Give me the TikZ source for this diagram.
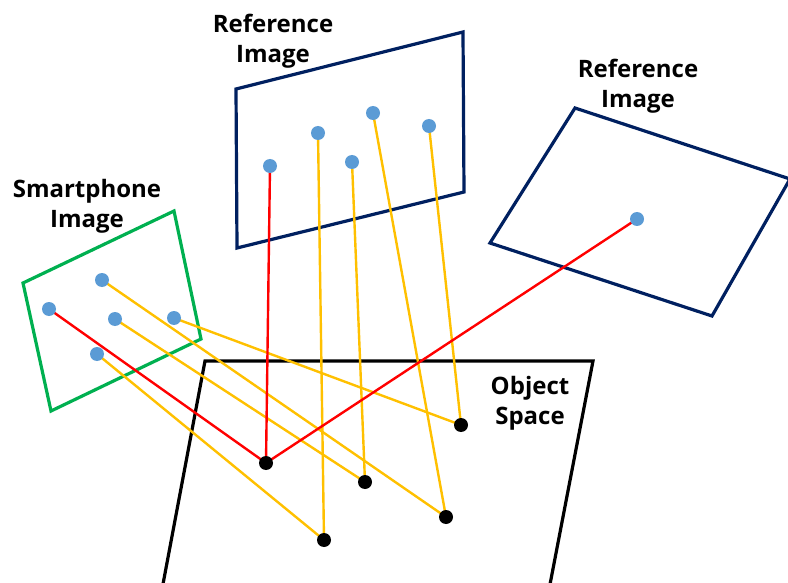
\documentclass[tikz,border=0pt]{standalone}
\usepackage{fontspec}
\setmainfont{Open Sans}
\usetikzlibrary{backgrounds}
\definecolor{fgreen}{HTML}{00B050}
\definecolor{fnavy}{HTML}{002060}
\definecolor{fyellow}{HTML}{FFC000}
\definecolor{fred}{HTML}{FF0000}
\definecolor{fblue}{HTML}{5B9BD5}
\begin{document}
\begin{tikzpicture}[x=1pt,y=-1pt,
  frame/.style={line width=3.2pt, line join=miter},
  ray/.style={line width=2.4pt},
  bdot/.style={circle, fill=fblue, inner sep=0pt, minimum size=14pt},
  kdot/.style={circle, fill=black, inner sep=0pt, minimum size=14pt},
  lbl/.style={font=\fontsize{24}{30}\selectfont\bfseries, align=center, inner sep=0pt}]
\useasboundingbox (0,0) rectangle (788,583);
\clip (0,0) rectangle (788,583);
% labels
\node[lbl] (lsp) at (87,206) {Smartphone\\Image};
\node[lbl] (lr1) at (273,41) {Reference\\Image};
\node[lbl] (lr2) at (638,86) {Reference\\Image};
\node[lbl] (los) at (530,403) {Object\\Space};
% smartphone points
\node[bdot] (s1) at (49,309) {};
\node[bdot] (s2) at (102,280) {};
\node[bdot] (s3) at (115,319) {};
\node[bdot] (s4) at (174,318) {};
\node[bdot] (s5) at (97,354) {};
% reference image 1 points
\node[bdot] (r1) at (270,166) {};
\node[bdot] (r2) at (318,133) {};
\node[bdot] (r3) at (352,162) {};
\node[bdot] (r4) at (373,113) {};
\node[bdot] (r5) at (429,126) {};
% reference image 2 point
\node[bdot] (q1) at (637,219) {};
% object points
\node[kdot] (o1) at (266,463) {};
\node[kdot] (o2) at (365,482) {};
\node[kdot] (o3) at (446,517) {};
\node[kdot] (o4) at (324,540) {};
\node[kdot] (o5) at (461,425) {};
\begin{scope}[on background layer]
% frames
\draw[frame, fgreen] (23,283) -- (174,211) -- (201,339) -- (51,411) -- cycle;
\draw[frame, fnavy] (236,89) -- (463,32) -- (464,192) -- (237,248) -- cycle;
\draw[frame, fnavy] (575,108) -- (790,179) -- (712,316) -- (490,243) -- cycle;
\draw[frame, black] (160,600) -- (205,361) -- (593,361) -- (547,600);
% rays
\draw[ray, fyellow] (s2.center) -- (o3.center);
\draw[ray, fyellow] (s3.center) -- (o2.center);
\draw[ray, fyellow] (s4.center) -- (o5.center);
\draw[ray, fyellow] (s5.center) -- (o4.center);
\draw[ray, fyellow] (r2.center) -- (o4.center);
\draw[ray, fyellow] (r3.center) -- (o2.center);
\draw[ray, fyellow] (r4.center) -- (o3.center);
\draw[ray, fyellow] (r5.center) -- (o5.center);
\draw[ray, fred] (s1.center) -- (o1.center);
\draw[ray, fred] (r1.center) -- (o1.center);
\draw[ray, fred] (q1.center) -- (o1.center);
\end{scope}
\end{tikzpicture}
\end{document}
